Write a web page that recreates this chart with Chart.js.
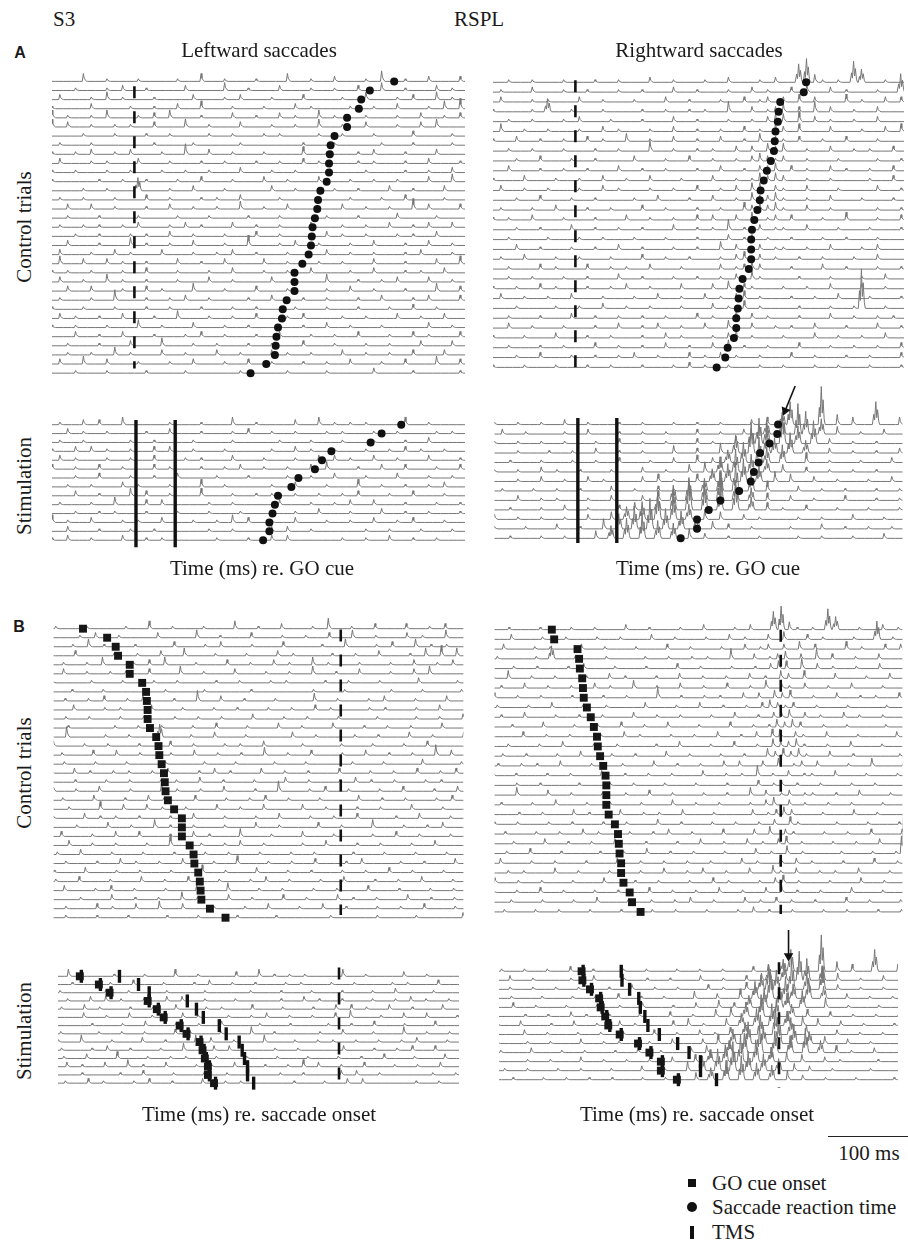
<!DOCTYPE html>
<html>
<head>
<meta charset="utf-8">
<script src="https://cdn.jsdelivr.net/npm/chart.js@4.4.1/dist/chart.umd.min.js"></script>
<style>
body { margin: 0; background: #fff; }
#fig { position: relative; width: 908px; height: 1241px; overflow: hidden; font-family: "Liberation Serif", "Times New Roman", serif; color: #1a1a1a; }
#fig canvas { position: absolute; }
.t { position: absolute; font-size: 21px; line-height: 1; white-space: nowrap; transform: translate(-50%, -50%); }
.t.l { transform: translate(0, -50%); }
.t.v { transform: translate(-50%, -50%) rotate(-90deg); }
.t.p { font-family: "Liberation Sans", Arial, sans-serif; font-weight: bold; font-size: 16px; }
.sym { position: absolute; background: #111; }
</style>
</head>
<body>
<div id="fig"></div>
<script>
// time base of the raster strings: 10 ms bins starting 240 ms before the GO cue
var BIN_START = -240;
var BIN_MS = 10;
var PX_PER_MS = 0.8;
var SPIKE_PX = 2.7;          // height of one amplitude step
var tmsTimes = [2, 52];      // TMS pulses re. GO cue (ms)

// saccade reaction times (ms), longest first
var rtLeftCtrl = [331, 300, 289, 286, 271, 271, 255, 250, 249, 248, 248, 245, 237, 234, 233, 230, 227, 226, 225, 222, 214, 204, 204, 204, 194, 189, 188, 183, 181, 180, 179, 168, 148];
var rtRightCtrl = [294, 291, 261, 259, 258, 255, 254, 253, 249, 244, 240, 236, 235, 232, 228, 225, 224, 224, 224, 221, 213, 209, 208, 207, 205, 205, 202, 194, 191, 180];
var rtLeftStim = [340, 315, 301, 251, 239, 230, 209, 200, 183, 179, 176, 172, 172, 164];
var rtRightStim = [259, 258, 248, 236, 234, 228, 224, 209, 185, 170, 155, 155, 134];

// EMG per trial: one char per 10 ms bin, '.' = quiet, 1-9/a-f = spike height
var emgLeftCtrl = [
  "...1....2. ..1....3.. 1...1....1 ..3..1...1 ...3..1..2 ...1.4..1. .2...2..1. 2...",
  "..2..1...1 ..3...1... 1.2..1.... 2....3..1. ..2...1..1 ..2..3..1. ..2.1..3.. 1...",
  ".1...2.1.. .1..2...1. 3.1...1... .2...1.2.. .1...2.... 1..3...1.2 ..3.1.1..2 ....",
  "...1..2... 1..1....2. ...1..1..2 ..3...1... 1...2.1... .1..1..2.. .1.3.4.3.2 .1..",
  ".2..1...1. .2.3.1..1. 3...1.2.3. ..1...2..1 ..2.1..3.1 ...1...1.. 2..1.2..1. ....",
  "..1..2...1 ...3.2..1. .1.1..2... 3..1...2.. .1..1..3.. 1..2...1.. 2.3....2.. 1...",
  "...1...1.. ..1....1.. .1...1..1. ...1..1... 1.1....1.. 1...1....2 ....1..1.. ....",
  "..1..1...2 ....1...1. ......1... .1.....1.. .....1...1 .....1...1 ....1...1. ....",
  ".1..2...1. .1.1..1.2. .1.2...1.. 4..2..1... 1....3..1. ..1.2...1. ..2...1.2. .1..",
  "...1...1.. 1...2...1. 1...2...1. ..1..1...1 ..1..2.1.. ..1.1...1. .2...1..3. 2...",
  "..1...2..1 ...1..1... 1..1...1.. 1..1...2.. .1..1...1. ...1....1. .1..2..1.3 ....",
  ".1...1...2 ...1.....1 ..1..1...1 ..2...1... 2..1...2.. .1..1..1.. .2..3.1..2 ....",
  "..2...1... 1.4....1.. 1...5...1. .2...1.... .2..1....1 ..1...2..1 ...2..1.1. ....",
  ".1..1.1... 2...1..1.. .1...2..1. ..1.1..2.. ..1....1.. .1...1..2. ...1..2... 1...",
  "..1...1..3 .1...2..2. .1...1..2. .1..1..3.. 1..2...1.. 2..1..1..4 .2...2.3.. 1...",
  "...1...1.. .1...1...1 ....1....1 ...1....1. ..1.....1. ..1....2.. ..1....1.. .1..",
  "..2..1...3 ..2.1..1.1 ..1.2...1. 2.1...2..1 ..1...2... 1..1..2..1 .2..2..3.. 1...",
  ".1...1..2. ..1...1..1 ...1.1..2. .1...1...2 ..1...1.2. 1..1...1.1 ..2...3... 1...",
  "..1..2...4 ..1..2...1 ...3.1..1. .2...1..4. ..1.2..1.. .1..2...1. .2..1..2.1 ....",
  ".1..1..2.. 1...2...1. .2.1...2.. .1..1.2..1 ...1....2. .1..1...1. 2...1..1.. 2...",
  "..1...2... 1...3..2.. 2.1..1...2 ..1..2.... 2..1...1.. 1...2...1. ..2..3..1. ....",
  ".2..1..1.. .2.1.1..1. ..1..2...1 ...1..2... 1..1..2... .1..2...1. 1..2...1.. 1...",
  "...1..1... 1...2..1.. 3.1..1...1 ...2..1... .2..1...3. ..1..1.2.. .2..1..2.. ....",
  "..1...3.2. ..1..2..2. ..1..2.1.. .3...1...2 ...1....1. .2..1...1. ..3..2...1 ....",
  ".1..1...2. .1..1...1. .4...1..1. 2..1....1. .2...1..1. ..1..2...1 .2...2..1. 1...",
  "..1...1..2 ...1...1.. .1...1..1. ..1...1..1 ....1...1. ..1...1..2 ..1...1... ....",
  ".1..2..1.. .1..2.1..1 ..2...1..3 ...1..1..2 ...1.2.... 1..1...2.. 1..2..3..1 ....",
  "..1..1...2 ...1..1... 1...3..1.. .2...1..1. ..1..1..2. .1...1.... .2..1..2.. ....",
  ".1...1..2. ..1...2..1 ..2...1... 1.2..1...1 ..2...1..1 ..2...1..2 .1...2..2. ....",
  "..1...2... 1.2..1...1 ...2...3.. .1..1...1. .1...2...1 ...1..1... 2...2..1.. ....",
  ".1..2...1. ..2..1..1. .3.1...2.. 1...2..1.. .2.1..1... 2..1..1..2 ...2..3..1 ....",
  "..2..1...2 .1..2..3.. 2...1...1. .2...1..2. .1...1..1. .2...1..2. ..3..2..1. ....",
  "...1...1.. .1....1... 1....1.... 1......1.. ...1....1. ....2....1 .....1...1 ...."
];

var emgRightCtrl = [
  "..1...1..2 .1...1..1. ..1...1..1 ...2..1... 1..2...1.2 ..7931.1.8 5..1..2.1. 1.2.",
  "...1..2... 1...1...2. ..1..1...1 ..1...2..1 ...1..2.1. .2.3..2.1. ..1..7.1.2 ..1.",
  "..1..1...2 ..1.2...1. 1...2..1.. .1...2..1. ..1..2.12. 2.3.2...3. 1..2.2...1 .2..",
  "...1..1... 2..1....1. 5..1...1.. ..1..1..1. 1..4..2.12 3.2.4.2..1 ..2...3..1 ..1.",
  ".1...1..2. ..1..1..1. ..1.2...1. ..1...2..1 ...1..1.23 3.4.2.1..1 ..2...1..2 .1..",
  "..1..2...1 ..1.3..1.. 1...1..2.1 ...1..2..1 ..1..2.1.3 2.3...2... 1..2.3..2. ..1.",
  ".1..1..3.1 ...1..2..1 ..1..2.1.. 3..1..2..1 ..2..1.3.2 1.2..1..2. ..1...2..1 .1..",
  "...1...1.. ..2..1..1. ..1...1..1 ...4..1..1 .1..2.2.32 3..1..2..1 .1..2..3.. 1...",
  "..1..2..1. ..1...1..2 ...1..1... .2...1..2. .1..1.2321 2..1...1.. ..1..1...2 ....",
  ".2...1..1. ..1..2...1 ..1..1...2 ..1..1...1 ..2..1.223 .2.1..2.1. .1..2...1. 2...",
  "..1..2...1 ...1...2.. .1..1..2.. 1..2...1.. .2..1.1323 2..1..1... .1..2..3.. 1...",
  ".1..1..3.. 1...2..1.. 1...1..2.1 ...1..1..2 ..1.2.33.2 1..2...1.. ..2..1...1 ....",
  "..2...1..1 ..1...1..2 ...1..1... .1..2...1. .2..1.3223 1..1..2... 1...1...2. .1..",
  ".1..1..2.. .1..1...1. .2...1..1. ..2..1...1 ..1..32323 1..2..1... ..1..1...1 ....",
  "...1...2.. 1..1.1..2. ..1...1... 2..1..1..2 .2..2.3.12 .2...1..3. ..1..2..1. 1...",
  "..1..1...2 ..1...1..1 ...2..1..1 ..1...2..1 .1.4.1.2.1 1..2...1.. .1...1..2. ....",
  ".1...1..1. ..1..1.... 1...1..1.. .1...1...1 ...2.12.1. .1...1..1. ..1...1... 1...",
  "..1.2...1. ..3...2..1 ...1..1..2 ..1...1..1 ..3.2.12.1 1..1..2... 1.2...2..1 ....",
  "...1..1... 1...1..2.. .1..1...1. ..2..1..1. ..1.23.2.1 ..1..1...1 ..2...1..1 ....",
  "..1...2.1. ..1..1...2 .1...2..1. 1..2...1.. ..2.1232.. .1...2..1. ..1..1...2 ....",
  ".1..1...1. .1...1..1. ..1..1...2 ..1...1..1 ..1.2.31.. ..1...1... 1..2...1.. ....",
  "..1...2..1 ...1..1..2 .1...1..1. 2..1...2.. .2.3.21... 1..1..2... 2..1...2.. 1...",
  "...1...1.. 1...2..1.. 1..2...1.. .1..2..1.. 2.1.23.1.. .1..1..2.. .1...1..1. ....",
  "..1..1...1 ..2...1... .1..1..2.. 1..1...1.. .2.1.3.1.. ..1...1..1 f..1..1... ....",
  ".1...1..2. ..1..1...1 ...2..1..1 ..1..1...2 .1..3.2.1. ..1...2..1 ..1.1...1. ....",
  "..2..1...1 .1...2..1. ..1...1..2 ..1.2..1.. 2..31.2..1 .1..2...1. ..2..1..1. 1...",
  ".1..1..2.. 1..1...1.. .2...1..1. ..1..2.1.. .1.23.1... 1...2..1.. 1..2...1.. ....",
  "..1...1..1 ..2..1...1 ..1...2..1 ..1..2..1. .2.3.1..1. ..2...1..1 ..1..2...1 ....",
  ".1..2...1. ..1...1..2 ...1..1..1 .2..1...2. 1.2.1..1.. .2..1...1. .1...2..1. 1...",
  "..1...1... 1..1...1.. .1...1..1. ..1...1.2. 1..1...1.. 1...1..1.. .1...1...1 ...."
];

var emgLeftStim = [
  "..1...1..2 ....1..2.2 ..3.....1. ..1...3..1 ....2..3.1 .1.1....3. .1....2..1 ....",
  ".1...1..2. ..1..2.1.. 1....1..2. ..1...1.2. .1..1...1. 1...1..1.. ..1.1...2. ....",
  "..1...1... 2...1..1.. ...1..1... .1....1... ..1...1... 1...1...1. .2....1... ....",
  "...1..2... 1..1..2.2. 1..1..2.2. .1...1.... .1..2.1..1 ...1..1.2. 1..1..1..2 ....",
  ".1...2.1.. .1..2.1... 1..1..2... 1.1...2... 1...1..2.2 .1..2..1.. .2...1..1. ....",
  "..1...1..2 ...2..1..2 ..1...2.1. ..1..1.2.. 1..1..2.3. ..1..2..2. ..1..2...2 ....",
  ".1...1.... ..1...1..2 ...1..1..2 ....1...1. ...1..1..2 ...1...2.. .1..1...2. ....",
  "..1..2.1.. ..1..1..1. ..2.1...1. ..3..1.... .1..2...1. ..3..1..1. .1.2..1... ....",
  ".1...1..3. ..1...2..1 ...3.2..1. ..3...1..1 .1..1..1.. 1.2...1..2 ...1..2..1 ....",
  "..1..1...1 .2..1...1. .3...2.2.. ...1..1... ..2...1..1 .2..2...1. ..1..1..2. ....",
  ".1...1..2. ..3...1..1 .1...1...1 ...1...1.. .1..1..2.. .1...2..1. .1...1..2 ....",
  "..1..2.1.. 2..3.1..2. ..1.1..2.. .1..1.3.2. .1..2...1. .1..2..1.2 ...1..2..1 ....",
  "...1...1.. ..1..2...1 ...1..1... ...1..1... .2.2..1... ...1..1... 1...1..1.. ....",
  ".1..1..2.1 ...1.2..1. ..2..1.1.. ....1...1. .2.2...... 1..1..2..1 ..1...2..1 ...."
];

var emgRightStim = [
  "..1...1..2 ...1..1..1 ..2..1...1 ..1...1..1 ..1...2.3. 59...f.4.3 ..9..3..1. ....",
  "...1..1... 1...2..1.. ..1..2...1 ..1..1...2 ..1..2.35. 7.c9.6.3.. 1..2...1.. ....",
  "..1..2...1 ...1..1..1 ..1...1..2 ..1..1...2 .1..3.6a8. c.7.9.2..1 ..1...2..1 ....",
  "...1..1..2 ..1...1... 1..1..2..1 ..1...3..2 ..4.7.c.96 .8.5..2..1 ..1..2...1 ....",
  ".1..1...1. ..2..1...1 ...1..1..2 ...1..2..3 .2.5.8.a6. 7..4..1... 1...2..1.. ....",
  "..1...2..1 ...1..1..2 .1..1...1. ..2..1..3. 4.6.9.7.5. 3..2..1..1 ..1...1... ....",
  "..2..1...1 ..2...1..2 ..1..2.1.. ..2.3.1..3 .5.7.9.6.4 .3..2..1.. .1..2...1 ....",
  "...1..1... .2..1...1. .1..1...2. .1..2.1.3. 5.8.b.7.4. ..2..1..1. ..1..1...1 ....",
  "..1..2...1 ..1...2..1 .1...1..2. ..2.4.6.9. 7.b.8.5.3. .2..1...2. ..1..1.... ....",
  ".1..1...2. ..1..1...1 ..2..1...2 .3..5.8.c. 9.7.a.5.3. 1..2...1.. .1...1..2. ....",
  "..1...1..1 ...2..1..1 ..1..2..3. 5.7.b.9.6. 4.3..2.1.. ..1..1...2 ...1...1.. ....",
  "...1..1... 1..1...1.. .2..1..4.6 .9.c.8.7.5 .3.2..1... .1...2..1. .1..1..1.. ....",
  "..1...1..1 ..1..1...1 ..1...3.5. 8.a.7.6.4. 2..1...1.. ..1..1...1 ...2..1... ...."
];

var fig = document.getElementById('fig');

function addText(txt, x, y, cls) {
  var d = document.createElement('div');
  d.className = 't' + (cls ? ' ' + cls : '');
  d.textContent = txt;
  d.style.left = x + 'px';
  d.style.top = y + 'px';
  fig.appendChild(d);
}

function addSym(x, y, w, h, round) {
  var d = document.createElement('div');
  d.className = 'sym';
  d.style.left = (x - w / 2) + 'px';
  d.style.top = (y - h / 2) + 'px';
  d.style.width = w + 'px';
  d.style.height = h + 'px';
  if (round) d.style.borderRadius = '50%';
  fig.appendChild(d);
}

// outline of one spike inside a bin: [ms offset from bin centre, fraction of height]
var SPIKE_SMALL = [[-1.5, 0], [0, 1], [1, 0.4], [3, 0.1], [4.5, 0]];
var SPIKE_BURST = [[-4.5, 0], [-3, 0.45], [-2, 0.2], [-0.5, 1], [0.7, 0.3], [1.8, 0.65], [3.2, 0.15], [4.5, 0]];

// turn one raster string into line points; shift moves the trace to saccade time
function tracePoints(code, row, shift, amp, lo, hi) {
  var bins = code.split(' ').map(function (b) { return (b + '..........').slice(0, 10); }).join('');
  var pts = [];
  for (var k = 0; k < bins.length; k++) {
    var t = BIN_START + k * BIN_MS - shift;
    if (t < lo - BIN_MS || t > hi + BIN_MS) continue;
    pts.push({ x: t, y: row });
    var h = parseInt(bins[k], 36) || 0;
    if (h) {
      var c = t + 5, p = h * amp;
      var shape = h >= 5 ? SPIKE_BURST : SPIKE_SMALL;
      shape.forEach(function (s) { pts.push({ x: c + s[0], y: row - p * s[1] }); });
    }
  }
  return pts;
}

function makePanel(cfg) {
  var cv = document.createElement('canvas');
  cv.width = cfg.width;
  cv.height = cfg.height;
  cv.style.left = cfg.left + 'px';
  cv.style.top = cfg.top + 'px';
  fig.appendChild(cv);

  var xMin = (cfg.left - cfg.zeroX) / PX_PER_MS;
  var xMax = (cfg.left + cfg.width - cfg.zeroX) / PX_PER_MS;
  var yMin = (cfg.top - cfg.y0) / cfg.dy;
  var yMax = (cfg.top + cfg.height - cfg.y0) / cfg.dy;
  var amp = SPIKE_PX / cfg.dy;
  var bySaccade = cfg.align === 'saccade';

  var datasets = [];
  cfg.emg.forEach(function (code, i) {
    datasets.push({
      data: tracePoints(code, i, bySaccade ? cfg.rt[i] : 0, amp, xMin, xMax),
      showLine: true, borderColor: '#777', borderWidth: 1, pointRadius: 0, order: 3
    });
  });

  if (bySaccade) {
    // GO cue onset for each trial
    datasets.push({
      data: cfg.rt.map(function (r, i) { return { x: -r, y: i }; }),
      pointStyle: 'rect', pointRadius: 5.6, pointBackgroundColor: '#161616', pointBorderWidth: 0, order: 0, clip: false
    });
  } else {
    // saccade reaction time for each trial
    datasets.push({
      data: cfg.rt.map(function (r, i) { return { x: r, y: i }; }),
      pointStyle: 'circle', pointRadius: 4, pointBackgroundColor: '#111', pointBorderWidth: 0, order: 0, clip: false
    });
  }

  if (cfg.dash) {
    datasets.push({
      data: [{ x: 0, y: cfg.dash[0] }, { x: 0, y: cfg.dash[1] }],
      showLine: true, borderColor: '#111', borderWidth: 2.6, borderDash: [12, 13], borderCapStyle: 'butt', pointRadius: 0, order: 1
    });
  }

  if (cfg.tmsBars) {
    tmsTimes.forEach(function (t) {
      datasets.push({
        data: [{ x: t, y: cfg.tmsBars[0] }, { x: t, y: cfg.tmsBars[1] }],
        showLine: true, borderColor: '#111', borderWidth: 3.4, borderCapStyle: 'butt', pointRadius: 0, order: 1
      });
    });
  }

  if (cfg.tmsMarks) {
    var marks = [];
    cfg.rt.forEach(function (r, i) {
      tmsTimes.forEach(function (t) { marks.push({ x: t - r, y: i }); });
    });
    datasets.push({
      data: marks, pointStyle: 'line', pointRotation: 90, pointRadius: 6.5,
      pointBorderColor: '#111', pointBorderWidth: 3.4, order: 1, clip: false
    });
  }

  if (cfg.arrow) {
    var a = cfg.arrow;
    datasets.push({
      data: [a.tail, a.head], showLine: true, borderColor: '#111', borderWidth: 1.6, pointRadius: 0, order: 0, clip: false
    });
    datasets.push({
      data: [a.head], pointStyle: 'triangle', pointRotation: a.rot, pointRadius: 5.5,
      pointBackgroundColor: '#111', pointBorderWidth: 0, order: 0, clip: false
    });
  }

  new Chart(cv, {
    type: 'scatter',
    data: { datasets: datasets },
    options: {
      animation: false,
      responsive: false,
      devicePixelRatio: 1,
      events: [],
      layout: { padding: 0 },
      plugins: { legend: { display: false }, tooltip: { enabled: false } },
      scales: {
        x: { type: 'linear', display: false, min: xMin, max: xMax },
        y: { type: 'linear', display: false, reverse: true, min: yMin, max: yMax }
      }
    }
  });
}

// A: aligned on GO cue
makePanel({ left: 48, top: 52, width: 421, height: 336, zeroX: 132, y0: 78, dy: 9.34,
  rt: rtLeftCtrl, emg: emgLeftCtrl, align: 'go', dash: [0.54, 31.5] });
makePanel({ left: 489, top: 50, width: 419, height: 336, zeroX: 573, y0: 79, dy: 10.07,
  rt: rtRightCtrl, emg: emgRightCtrl, align: 'go', dash: [-0.2, 29] });
makePanel({ left: 48, top: 395, width: 421, height: 165, zeroX: 132, y0: 422, dy: 9.34,
  rt: rtLeftStim, emg: emgLeftStim, align: 'go', tmsBars: [-0.54, 13.8] });
makePanel({ left: 489, top: 372, width: 419, height: 188, zeroX: 573, y0: 422, dy: 10.07,
  rt: rtRightStim, emg: emgRightStim, align: 'go', tmsBars: [-0.7, 12.5],
  arrow: { tail: { x: 281, y: -4.07 }, head: { x: 268, y: -1.46 }, rot: 202 } });

// B: aligned on saccade onset
makePanel({ left: 48, top: 596, width: 421, height: 340, zeroX: 343, y0: 624, dy: 9.34,
  rt: rtLeftCtrl, emg: emgLeftCtrl, align: 'saccade', dash: [0.1, 31.7] });
makePanel({ left: 489, top: 596, width: 419, height: 336, zeroX: 783, y0: 625, dy: 10.07,
  rt: rtRightCtrl, emg: emgRightCtrl, align: 'saccade', dash: [0, 29.2] });
makePanel({ left: 48, top: 940, width: 421, height: 165, zeroX: 343, y0: 970, dy: 9.34,
  rt: rtLeftStim, emg: emgLeftStim, align: 'saccade', dash: [-1.07, 13.7], tmsMarks: true });
makePanel({ left: 489, top: 912, width: 419, height: 193, zeroX: 783, y0: 967, dy: 10.07,
  rt: rtRightStim, emg: emgRightStim, align: 'saccade', dash: [-1, 12.9], tmsMarks: true,
  arrow: { tail: { x: 12.5, y: -4.57 }, head: { x: 12.5, y: -1.69 }, rot: 180 } });

// labels
addText('S3', 53, 19, 'l');
addText('RSPL', 454, 19, 'l');
addText('A', 20, 53, 'p');
addText('B', 19, 627, 'p');
addText('Leftward saccades', 259, 50);
addText('Rightward saccades', 699, 50);
addText('Control trials', 24, 227, 'v');
addText('Stimulation', 24, 486, 'v');
addText('Control trials', 24, 773, 'v');
addText('Stimulation', 24, 1031, 'v');
addText('Time (ms) re. GO cue', 262, 568);
addText('Time (ms) re. GO cue', 708, 568);
addText('Time (ms) re. saccade onset', 259, 1114);
addText('Time (ms) re. saccade onset', 697, 1114);

// 100 ms scale bar
var bar = document.createElement('div');
bar.style.cssText = 'position:absolute;left:828px;top:1136px;width:80px;height:0;border-top:1.3px solid #222;';
fig.appendChild(bar);
addText('100 ms', 869, 1153);

// key
addSym(692, 1183, 8, 8);
addSym(692, 1207, 10, 10, true);
addSym(692, 1232, 3.5, 13);
addText('GO cue onset', 712, 1183, 'l');
addText('Saccade reaction time', 712, 1207, 'l');
addText('TMS', 712, 1232, 'l');
</script>
</body>
</html>
